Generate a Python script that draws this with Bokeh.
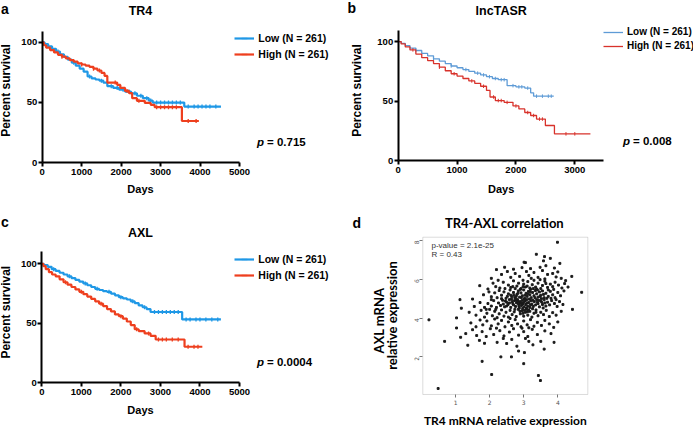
import math
import numpy as np
from bokeh.plotting import figure
from bokeh.models import Label, Legend, LegendItem, FixedTicker, Range1d, BoxAnnotation
from bokeh.layouts import column, row
from bokeh.embed import file_html
from bokeh.resources import INLINE

# ---------------- data ----------------
# Panel a: TR4
a_low_t = [0, 60, 150, 250, 350, 450, 550, 650, 750, 850, 950, 1050, 1150, 1250, 1350, 1450, 1550, 1650, 1800, 1950, 2100, 2250, 2400, 2550, 2700, 2800, 3600, 4530]
a_low_s = [100, 98.5, 96.5, 94.5, 92.3, 90, 87.8, 85.5, 83, 80.5, 78, 75.5, 71.5, 70, 69, 68, 66.5, 63.5, 62, 60.5, 59, 57.5, 55.5, 53.5, 51.5, 49.8, 46.5, 46.5]
a_high_t = [0, 40, 100, 200, 300, 400, 500, 600, 700, 800, 900, 1000, 1100, 1200, 1300, 1400, 1500, 1580, 1650, 1900, 1980, 2100, 2200, 2280, 2400, 2600, 2750, 2850, 3540, 3970]
a_high_s = [100, 97.5, 95.5, 93.5, 91.5, 89.5, 88, 86.5, 85.2, 83.8, 82.5, 81.5, 80.5, 79.5, 78, 76.5, 74.5, 72, 66.5, 64.5, 62, 59.5, 57.7, 53.5, 51.3, 49.5, 48, 46, 34.5, 34.5]
a_low_cens = [400, 800, 1200, 1500, 1750, 1900, 2050, 2200, 2350, 2500, 2650, 2750, 2900, 3000, 3100, 3200, 3300, 3400, 3500, 3700, 3850, 3950, 4050, 4150, 4250, 4400]
a_high_cens = [500, 1000, 1300, 1450, 1850, 2150, 2450, 2900, 3000, 3100, 3200, 3300, 3400, 3700, 3900]

# Panel b: lncTASR
b_low_t = [0, 50, 120, 200, 300, 400, 500, 600, 700, 800, 900, 1000, 1100, 1200, 1300, 1400, 1500, 1600, 1700, 1850, 2000, 2150, 2250, 2300, 2642]
b_low_s = [100, 98.5, 96.5, 94.5, 92.5, 90, 88, 85.5, 83.5, 81.5, 79.5, 78, 76.5, 75, 73.5, 72, 70.5, 69, 68, 63, 62, 61, 57, 54.2, 54.2]
b_high_t = [0, 50, 120, 200, 300, 400, 500, 600, 700, 800, 900, 1000, 1100, 1200, 1300, 1400, 1500, 1560, 1650, 1800, 1950, 2050, 2150, 2250, 2350, 2500, 2654, 3265]
b_high_s = [100, 98, 95.5, 93, 89.5, 86.5, 84, 81.5, 78.5, 75.5, 73, 71, 69, 67, 65, 62.5, 59, 53.5, 50.5, 49, 46, 43.5, 40.5, 38, 35, 29.6, 22.6, 22.6]
b_low_cens = [300, 600, 900, 1150, 1350, 1450, 1550, 1650, 1750, 1800, 1950, 2050, 2100, 2200, 2350, 2450, 2550, 2600]
b_high_cens = [250, 700, 950, 1250, 1450, 1620, 1700, 1750, 1850, 2000, 2200, 2300, 2400, 2450, 2850, 3000]

# Panel c: AXL
c_low_t = [0, 50, 150, 250, 350, 450, 550, 650, 750, 850, 950, 1050, 1150, 1250, 1350, 1450, 1550, 1650, 1750, 1850, 1950, 2050, 2150, 2250, 2350, 2450, 2550, 2650, 2750, 3550, 4530]
c_low_s = [100, 99, 97.5, 95.5, 94, 92.5, 91, 89.5, 88, 86.5, 85, 83.5, 82, 80.5, 79, 78, 77, 76.5, 75, 73.5, 72, 71, 70, 68.5, 67, 65, 63.5, 62, 59.5, 53.3, 53.3]
c_high_t = [0, 40, 100, 180, 260, 350, 450, 550, 650, 750, 850, 950, 1050, 1150, 1250, 1350, 1450, 1550, 1650, 1750, 1850, 1950, 2050, 2150, 2250, 2350, 2450, 2600, 2750, 2880, 3610, 4060]
c_high_s = [100, 98, 95.5, 93, 91, 89.5, 87, 84.5, 82.5, 80.5, 78.5, 76.5, 74.5, 72.5, 70.5, 68.5, 66.5, 64.5, 62, 60, 57.5, 56, 54, 51.5, 48.5, 45, 43.5, 41.5, 39.5, 36.4, 30.3, 30.3]
c_low_cens = [300, 700, 1100, 1400, 1700, 2000, 2300, 2600, 2850, 2950, 3050, 3150, 3250, 3350, 3450, 3650, 3750, 3900, 4000, 4150, 4300, 4450]
c_high_cens = [600, 1000, 1500, 2000, 2400, 2700, 2950, 3050, 3150, 3300, 3450, 3700, 3850, 3950]

legend_labels = ["Low (N = 261)", "High (N = 261)"]
km_titles = ["TR4", "lncTASR", "AXL"]
km_pvalues = ["0.715", "0.008", "0.0004"]
km_ticks_5000 = [0, 1000, 2000, 3000, 4000, 5000]
km_ticks_3000 = [0, 1000, 2000, 3000]
surv_ticks = [0, 50, 100]

# Panel d: TR4-AXL correlation (TR4 expression, AXL expression)
corr_pts = [
    (2.20, 6.50), (2.44, 6.62), (3.01, 6.88), (3.05, 6.86), (3.37, 7.29), (3.61, 7.17), (3.78, 7.08), (4.06, 6.82),
    (3.58, 6.95), (3.65, 6.70), (2.95, 6.60), (3.20, 6.55), (3.48, 6.62), (3.90, 6.58), (2.70, 6.52), (3.99, 7.91),
    (2.05, 6.05), (2.35, 6.25), (2.62, 6.10), (2.75, 6.30), (2.88, 6.15), (3.08, 6.40), (3.15, 6.20), (3.30, 6.35),
    (3.42, 6.10), (3.55, 6.45), (3.70, 6.25), (3.85, 6.30), (3.95, 6.12), (4.10, 6.05), (4.41, 6.15), (4.23, 5.93),
    (2.52, 6.40), (3.22, 6.05), (3.62, 6.02), (4.00, 6.38),
    (1.71, 5.67), (1.95, 5.50), (2.10, 5.80), (2.18, 5.62), (2.30, 5.55), (2.40, 5.85), (2.55, 5.70), (2.62, 5.58),
    (2.70, 5.92), (2.80, 5.65), (2.85, 5.80), (2.92, 5.52), (3.00, 5.75), (3.05, 5.60), (3.12, 5.88), (3.18, 5.55),
    (3.25, 5.72), (3.30, 5.95), (3.35, 5.60), (3.42, 5.80), (3.50, 5.52), (3.55, 5.68), (3.62, 5.90), (3.70, 5.58),
    (3.78, 5.75), (3.85, 5.62), (3.92, 5.85), (4.02, 5.70), (4.12, 5.55), (4.20, 5.78), (4.30, 5.60), (2.45, 5.52),
    (2.98, 5.95), (3.48, 5.98), (2.25, 5.95), (3.10, 5.65), (3.38, 5.50), (3.65, 5.78), (2.75, 5.52),
    (1.50, 4.98), (1.13, 4.95), (1.82, 5.20), (1.98, 5.35), (2.05, 5.10), (2.15, 5.30), (2.22, 5.05), (2.28, 5.42),
    (2.35, 5.18), (2.42, 5.35), (2.48, 5.02), (2.55, 5.25), (2.60, 5.45), (2.65, 5.10), (2.70, 5.32), (2.74, 5.05),
    (2.80, 5.22), (2.84, 5.40), (2.88, 5.08), (2.92, 5.30), (2.96, 5.15), (3.00, 5.45), (3.03, 5.02), (3.07, 5.28),
    (3.10, 5.12), (3.14, 5.38), (3.18, 5.20), (3.22, 5.05), (3.26, 5.32), (3.30, 5.15), (3.34, 5.42), (3.38, 5.25),
    (3.42, 5.08), (3.46, 5.35), (3.50, 5.18), (3.55, 5.40), (3.60, 5.05), (3.65, 5.28), (3.72, 5.12), (3.78, 5.38),
    (3.85, 5.20), (3.92, 5.05), (4.00, 5.32), (4.08, 5.15), (4.18, 5.40), (4.70, 5.33), (2.90, 5.48), (3.20, 5.48),
    (2.62, 5.18), (3.52, 5.00), (3.12, 5.25), (3.40, 5.45), (2.78, 5.12), (3.58, 5.22),
    (1.17, 4.51), (1.55, 4.60), (1.72, 4.80), (1.85, 4.55), (1.95, 4.75), (2.05, 4.62), (2.12, 4.90), (2.20, 4.55),
    (2.26, 4.78), (2.32, 4.65), (2.38, 4.92), (2.44, 4.58), (2.50, 4.82), (2.54, 4.70), (2.58, 4.95), (2.62, 4.55),
    (2.66, 4.85), (2.70, 4.68), (2.73, 4.90), (2.76, 4.60), (2.79, 4.78), (2.82, 4.95), (2.85, 4.72), (2.87, 4.52),
    (2.90, 4.85), (2.93, 4.65), (2.96, 4.92), (2.98, 4.75), (3.01, 4.58), (3.04, 4.88), (3.06, 4.70), (3.09, 4.95),
    (3.12, 4.62), (3.15, 4.80), (3.18, 4.55), (3.21, 4.90), (3.24, 4.72), (3.28, 4.60), (3.31, 4.85), (3.35, 4.68),
    (3.38, 4.95), (3.42, 4.75), (3.46, 4.58), (3.50, 4.88), (3.55, 4.70), (3.60, 4.95), (3.65, 4.62), (3.70, 4.82),
    (3.76, 4.68), (3.82, 4.90), (3.90, 4.75), (3.98, 4.60), (4.05, 4.85), (4.15, 4.70), (4.43, 4.45), (2.88, 4.80),
    (2.84, 4.85), (2.92, 4.78), (2.80, 4.88), (3.00, 4.82), (2.95, 4.70), (3.10, 4.78), (2.68, 4.75), (3.20, 4.68),
    (2.50, 4.62), (3.40, 4.82),
    (1.03, 4.01), (0.22, 3.91), (1.40, 4.30), (1.60, 4.15), (1.75, 4.40), (1.85, 4.05), (1.92, 4.25), (2.00, 4.45),
    (2.08, 4.12), (2.15, 4.35), (2.22, 4.02), (2.28, 4.22), (2.35, 4.42), (2.42, 4.10), (2.48, 4.30), (2.55, 4.05),
    (2.60, 4.40), (2.66, 4.18), (2.72, 4.32), (2.78, 4.08), (2.84, 4.45), (2.90, 4.22), (2.95, 4.38), (3.00, 4.10),
    (3.05, 4.30), (3.08, 4.45), (3.12, 4.15), (3.18, 4.35), (3.24, 4.05), (3.30, 4.25), (3.36, 4.42), (3.42, 4.12),
    (3.50, 4.30), (3.58, 4.18), (3.66, 4.40), (3.75, 4.08), (3.85, 4.28), (3.95, 4.15), (4.10, 4.35), (3.02, 4.40),
    (3.14, 4.42), (2.98, 4.25),
    (1.03, 3.49), (1.45, 3.75), (1.60, 3.55), (1.72, 3.90), (1.80, 3.65), (1.92, 3.85), (2.05, 3.60), (2.15, 3.95),
    (2.25, 3.70), (2.35, 3.88), (2.45, 3.55), (2.55, 3.80), (2.65, 3.62), (2.75, 3.92), (2.82, 3.70), (2.92, 3.55),
    (3.00, 3.85), (3.10, 3.65), (3.20, 3.92), (3.30, 3.58), (3.40, 3.78), (3.52, 3.62), (3.62, 3.88), (3.75, 3.70),
    (3.88, 3.52), (4.00, 3.80), (2.60, 3.98), (3.15, 3.50),
    (1.15, 3.01), (1.30, 3.20), (1.50, 3.40), (1.62, 3.10), (1.78, 3.30), (1.90, 3.05), (2.02, 3.45), (2.12, 3.15),
    (2.30, 3.35), (2.42, 3.08), (2.58, 3.28), (2.70, 3.45), (2.85, 3.12), (3.00, 3.30), (3.12, 3.05), (3.25, 3.42),
    (3.40, 3.15), (3.62, 3.34), (3.80, 3.20), (2.20, 3.48), (2.95, 3.48),
    (0.68, 2.80), (1.36, 2.60), (1.70, 2.85), (1.85, 2.70), (2.22, 2.75), (2.50, 2.69), (2.65, 2.90), (2.80, 2.55),
    (3.05, 2.95), (3.27, 2.62), (3.50, 2.80), (3.89, 2.75), (2.40, 2.95), (3.15, 2.80),
    (1.78, 1.77), (2.06, 1.09), (2.33, 2.00), (2.64, 2.00), (3.00, 1.65), (3.02, 2.22), (3.43, 1.04), (3.49, 0.78),
    (0.49, 0.37), (2.85, 2.30), (3.60, 2.40),
    (2.86, 4.62), (2.93, 5.05), (3.02, 4.98), (3.08, 4.52), (2.77, 4.98), (2.71, 5.18), (3.16, 4.98), (3.27, 4.92),
    (3.33, 5.05), (2.58, 4.78), (2.64, 4.98), (3.44, 4.92), (3.48, 5.12), (3.53, 4.82), (3.57, 4.52), (2.46, 4.88),
    (2.52, 5.12), (2.40, 4.72), (3.62, 4.78), (3.68, 5.02), (2.89, 4.35), (2.97, 4.50), (3.11, 4.32), (3.26, 4.48),
    (2.74, 4.45), (3.36, 4.30), (3.04, 5.18), (2.83, 5.28), (3.19, 5.35), (2.98, 5.62), (3.28, 5.52), (2.68, 5.62),
    (3.72, 5.45), (3.88, 5.48), (3.80, 5.02), (3.95, 4.95), (2.35, 5.00), (2.18, 4.45), (2.05, 4.95), (1.90, 4.45),
]
corr_x = [pt[0] for pt in corr_pts]
corr_y = [pt[1] for pt in corr_pts]
corr_stats = ["p-value = 2.1e-25", "R = 0.43"]
corr_xticks = [1, 2, 3, 4]
corr_yticks = [2, 4, 6, 8]

# ---------------- helpers ----------------
FONT = "Liberation Sans"


def base_fig(width, height, xr, yr):
    p = figure(width=width, height=height, x_range=Range1d(*xr), y_range=Range1d(*yr),
               min_border=0, min_border_left=0, min_border_right=0,
               min_border_top=0, min_border_bottom=0, title=None,
               output_backend="svg", toolbar_location=None)
    p.outline_line_color = None
    p.grid.visible = False
    p.background_fill_color = "white"
    p.border_fill_color = "white"
    return p


def km_fig(width, height, xr, yr, xbounds, ybounds, xticks):
    p = base_fig(width, height, xr, yr)
    xa, ya = p.xaxis[0], p.yaxis[0]
    xa.fixed_location = 0
    ya.fixed_location = 0
    xa.bounds = xbounds
    ya.bounds = ybounds
    for ax in (xa, ya):
        ax.axis_line_width = 2
        ax.axis_line_color = "black"
        ax.major_tick_line_width = 2
        ax.major_tick_out = 4
        ax.major_tick_in = 0
        ax.minor_tick_out = 0
        ax.minor_tick_in = 0
        ax.major_label_text_font = FONT
        ax.major_label_text_font_style = "bold"
        ax.major_label_text_font_size = "9.5px"
        ax.major_label_text_color = "black"
    xa.major_label_standoff = 2
    ya.major_label_standoff = 1
    xa.ticker = FixedTicker(ticks=xticks)
    ya.ticker = FixedTicker(ticks=surv_ticks)
    return p


def km_curve(p, t, s, cens, color, lw, tick):
    line = p.step(t, s, mode="after", line_color=color, line_width=lw)
    t_arr = np.array(t)
    cy = [s[int(np.searchsorted(t_arr, c, side="right")) - 1] for c in cens]
    mk = p.scatter(cens, cy, marker="dash", angle=math.pi / 2, size=tick,
                   line_color=color, line_width=max(1.0, lw * 0.6))
    return [line, mk]


def km_legend(p, r_low, r_high, vx, vy, spacing, size):
    lg = Legend(items=[LegendItem(label=legend_labels[0], renderers=r_low),
                       LegendItem(label=legend_labels[1], renderers=r_high)],
                location=(vx, vy), orientation="vertical", padding=0, margin=0,
                spacing=spacing, glyph_width=20, glyph_height=14, label_standoff=4,
                label_height=14, label_text_font=FONT, label_text_font_style="bold",
                label_text_font_size=size, label_text_color="black",
                border_line_color=None, background_fill_alpha=0)
    p.add_layout(lg)


def txt(p, cx0, cy1, X, Y, text, size, align="left", angle=0.0, font=FONT,
        style="bold", color="black"):
    # X, Y: page position; converted to offsets from the panel's bottom-left corner
    p.add_layout(Label(x=X - cx0, y=cy1 - Y, x_units="screen", y_units="screen", text=text,
                       text_font=font, text_font_style=style, text_font_size=size,
                       text_align=align, text_baseline="middle", angle=angle,
                       text_color=color))


def km_texts(p, cx0, cy1, letter, lxy, title, txy, pv, pxy, dxy, yxy):
    txt(p, cx0, cy1, lxy[0], lxy[1], letter, "14px")
    txt(p, cx0, cy1, txy[0], txy[1], title, "12.5px", align="center")
    txt(p, cx0, cy1, pxy[0], pxy[1], "p", "11.5px", style="bold italic")
    txt(p, cx0, cy1, pxy[0] + 10, pxy[1], "= " + pv, "11.5px")
    txt(p, cx0, cy1, dxy[0], dxy[1], "Days", "11px", align="center")
    txt(p, cx0, cy1, yxy[0], yxy[1], "Percent survival", "12px", align="center", angle=math.pi / 2)


BLUE1, RED1 = "#1f98e6", "#ee3f1e"
BLUE2, RED2 = "#5e9bd6", "#d8322b"

# ---------------- panel a ----------------
pa = km_fig(345, 215, (-1057, 7686), (-44.06, 134.7), (0, 5000), (0, 109.1), km_ticks_5000)
ra_low = km_curve(pa, a_low_t, a_low_s, a_low_cens, BLUE1, 2.2, 4)
ra_high = km_curve(pa, a_high_t, a_high_s, a_high_cens, RED1, 2.2, 4)
km_legend(pa, ra_low, ra_high, 234.3, 153.7, 2, "10.5px")
km_texts(pa, 0, 215, "a", (0.5, 8), km_titles[0], (140, 10.5), km_pvalues[0], (256.5, 141),
         (140, 188.3), (5.5, 90))

# ---------------- panel b ----------------
pb = km_fig(348, 215, (-895, 5016), (-45.85, 134.4), (0, 3480), (0, 109.2), km_ticks_3000)
rb_low = km_curve(pb, b_low_t, b_low_s, b_low_cens, BLUE2, 1.3, 3.5)
rb_high = km_curve(pb, b_high_t, b_high_s, b_high_cens, RED2, 1.3, 3.5)
km_legend(pb, rb_low, rb_high, 258, 162.3, 0, "10px")
km_texts(pb, 345, 215, "b", (347, 7), km_titles[1], (500.7, 10), km_pvalues[1], (622.5, 140),
         (500.7, 188.3), (356.7, 90))

# ---------------- panel c ----------------
pc = km_fig(345, 213, (-1044.5, 7681), (-38.4, 140.6), (0, 5000), (0, 110.3), km_ticks_5000)
rc_low = km_curve(pc, c_low_t, c_low_s, c_low_cens, BLUE1, 2.2, 4)
rc_high = km_curve(pc, c_high_t, c_high_s, c_high_cens, RED1, 2.2, 4)
km_legend(pc, rc_low, rc_high, 234.3, 145.7, 2, "10.5px")
km_texts(pc, 0, 428, "c", (0.5, 221), km_titles[2], (140, 232), km_pvalues[2], (256.5, 361.7),
         (140, 409), (5.5, 311.7))

# ---------------- panel d ----------------
pd_ = base_fig(348, 213, (-2.2275, 7.980), (-1.693, 9.289))
pd_.add_layout(BoxAnnotation(left=0.04, right=4.88, bottom=0.06, top=8.17, fill_alpha=0,
                             line_color="#8c8c8c", line_width=1, level="underlay"))
xa, ya = pd_.xaxis[0], pd_.yaxis[0]
xa.fixed_location = 0.06
ya.fixed_location = 0.04
for ax in (xa, ya):
    ax.axis_line_color = None
    ax.major_tick_out = 3
    ax.major_tick_in = 0
    ax.minor_tick_out = 0
    ax.minor_tick_in = 0
    ax.major_tick_line_color = "#777777"
    ax.major_label_text_font = "DejaVu Sans"
    ax.major_label_text_font_size = "6px"
    ax.major_label_text_color = "#555555"
    ax.major_label_standoff = 3
xa.ticker = FixedTicker(ticks=corr_xticks)
ya.ticker = FixedTicker(ticks=corr_yticks)
ya.major_label_orientation = math.pi / 2
pd_.scatter(corr_x, corr_y, marker="square", size=1.9, color="#1a1a1a")

cx0, cy1 = 345, 428
txt(pd_, cx0, cy1, 352, 222, "d", "14px")
txt(pd_, cx0, cy1, 504, 222.5, "TR4-AXL correlation", "13px", align="center", font="Lato")
txt(pd_, cx0, cy1, 431, 245.3, corr_stats[0], "8px", style="normal", color="#333333")
txt(pd_, cx0, cy1, 431, 253.5, corr_stats[1], "8px", style="normal", color="#333333")
txt(pd_, cx0, cy1, 378.3, 320, "AXL mRNA", "13px", align="center", angle=math.pi / 2, font="Lato")
txt(pd_, cx0, cy1, 391.7, 315, "relative expression", "13px", align="center", angle=math.pi / 2, font="Lato")
txt(pd_, cx0, cy1, 505, 419.5, "TR4 mRNA relative expression", "12px", align="center", font="Lato")

layout = column(row(pa, pb), row(pc, pd_))
open("out.html", "w").write(file_html(layout, INLINE))
